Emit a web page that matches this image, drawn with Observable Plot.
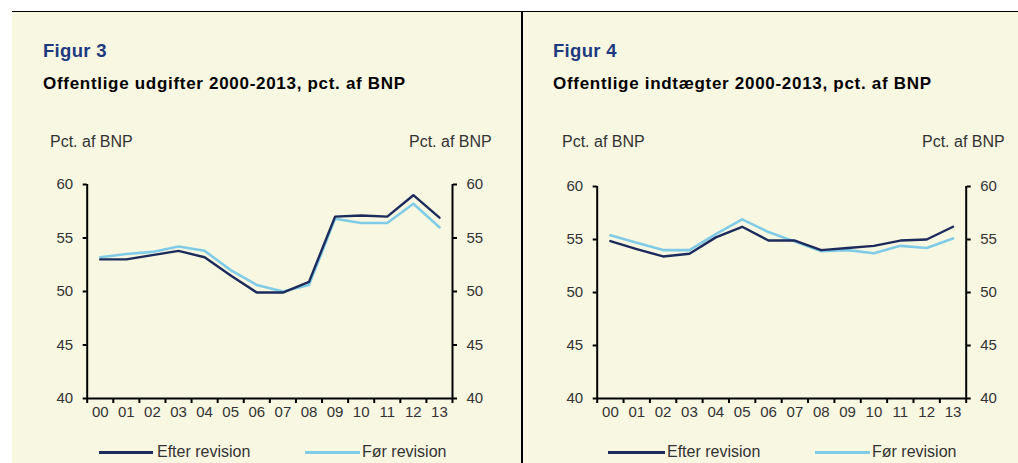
<!DOCTYPE html>
<html>
<head>
<meta charset="utf-8">
<script src="https://cdn.jsdelivr.net/npm/d3@7"></script>
<script src="https://cdn.jsdelivr.net/npm/@observablehq/plot@0.6"></script>
<style>
  html, body { margin: 0; padding: 0; background: #ffffff; }
  #page { position: relative; width: 1018px; height: 463px; overflow: hidden; font-family: "Liberation Sans", Arial, sans-serif; }
  #bg { position: absolute; left: 12px; top: 11px; width: 1006px; height: 452px; background: #f8f7e2; border-top: 1.5px solid #000; box-sizing: border-box; }
  #divider { position: absolute; left: 521px; top: 11px; width: 1.5px; height: 452px; background: #000; }
  .abs { position: absolute; white-space: nowrap; line-height: 1; }
  .fig { font-weight: bold; font-size: 18.5px; letter-spacing: 0.3px; color: #1d3a7e; }
  .sub { font-weight: bold; font-size: 17px; letter-spacing: 0.7px; color: #000; }
  .unit { font-size: 16px; color: #333; }
  .leg { font-size: 16px; color: #333; }
  .sw { position: absolute; height: 2.5px; }
  .plotbox { position: absolute; }
</style>
</head>
<body>
<div id="page">
  <div id="bg"></div>
  <div id="divider"></div>

  <div class="abs fig" style="left:43px; top:42px;">Figur 3</div>
  <div class="abs sub" style="left:43px; top:75px;">Offentlige udgifter 2000-2013, pct. af BNP</div>
  <div class="abs unit" style="left:50px; top:134px;">Pct. af BNP</div>
  <div class="abs unit" style="left:409px; top:134px;">Pct. af BNP</div>

  <div class="abs fig" style="left:553px; top:42px;">Figur 4</div>
  <div class="abs sub" style="left:553px; top:75px;">Offentlige indtægter 2000-2013, pct. af BNP</div>
  <div class="abs unit" style="left:562px; top:134px;">Pct. af BNP</div>
  <div style="position:absolute; left:900px; top:120px; width:104px; height:30px; overflow:hidden;">
    <div class="abs unit" style="left:22px; top:14px;">Pct. af BNP</div>
  </div>

  <div id="chart3" class="plotbox" style="left:20px; top:150px;"></div>
  <div id="chart4" class="plotbox" style="left:530px; top:150px;"></div>

  <div class="sw" style="left:99px; top:451px; width:54px; background:#1c2b5c;"></div>
  <div class="abs leg" style="left:157px; top:444px;">Efter revision</div>
  <div class="sw" style="left:305px; top:451px; width:55px; background:#80cbe6;"></div>
  <div class="abs leg" style="left:362px; top:444px;">Før revision</div>

  <div class="sw" style="left:608px; top:451px; width:57px; background:#1c2b5c;"></div>
  <div class="abs leg" style="left:667px; top:444px;">Efter revision</div>
  <div class="sw" style="left:815px; top:451px; width:55px; background:#80cbe6;"></div>
  <div class="abs leg" style="left:872px; top:444px;">Før revision</div>
</div>
<script>
// Categories (years 2000-2013)
const years = ["00","01","02","03","04","05","06","07","08","09","10","11","12","13"];
// Figur 3: Offentlige udgifter, pct. af BNP
const efter3 = [53.0, 53.0, 53.4, 53.8, 53.2, 51.5, 49.9, 49.9, 50.9, 57.0, 57.1, 57.0, 59.0, 56.9];
const foer3  = [53.2, 53.5, 53.7, 54.2, 53.8, 52.0, 50.6, 50.0, 50.6, 56.8, 56.4, 56.4, 58.2, 56.0];
// Figur 4: Offentlige indtægter, pct. af BNP
const efter4 = [54.85, 54.1, 53.4, 53.65, 55.2, 56.2, 54.9, 54.9, 54.0, 54.2, 54.4, 54.9, 55.0, 56.2];
const foer4  = [55.4, 54.7, 54.0, 54.0, 55.5, 56.9, 55.7, 54.8, 53.9, 54.0, 53.7, 54.4, 54.2, 55.1];
// Y-axis ticks
const yTicks = [40, 45, 50, 55, 60];

const DARK = "#1c2b5c";
const LIGHT = "#80cbe6";

function makeChart(efter, foer, o) {
  const rows = (arr) => years.map((y, i) => ({i, v: arr[i]}));
  const edges = d3.range(-0.5, years.length, 1);
  const centers = d3.range(0, years.length);
  return Plot.plot({
    width: o.width,
    height: o.height,
    marginLeft: o.ml,
    marginRight: o.mr,
    marginTop: o.mt,
    marginBottom: o.mb,
    style: {background: "transparent", fontFamily: "'Liberation Sans', Arial, sans-serif", color: "#333", overflow: "visible"},
    x: {type: "linear", domain: [-0.5, years.length - 0.5]},
    y: {domain: [40, 60]},
    marks: [
      Plot.axisY({anchor: "left", ticks: yTicks, tickSize: 4, tickPadding: 10, label: null, fontSize: 15, stroke: "#000", strokeWidth: 2}),
      Plot.axisY({anchor: "right", ticks: yTicks, tickSize: 4, tickPadding: 10, label: null, fontSize: 15, stroke: "#000", strokeWidth: 2}),
      Plot.axisX({ticks: edges, tickSize: 5, tickFormat: () => "", label: null, stroke: "#000", strokeWidth: 2}),
      Plot.axisX({ticks: centers, tickSize: 0, tickPadding: 8, tickFormat: (i) => years[i], label: null, fontSize: 15}),
      Plot.ruleX([-0.5, years.length - 0.5], {stroke: "#000", strokeWidth: 2}),
      Plot.ruleY([40], {stroke: "#000", strokeWidth: 2}),
      Plot.line(rows(foer), {x: "i", y: "v", stroke: LIGHT, strokeWidth: 2.6}),
      Plot.line(rows(efter), {x: "i", y: "v", stroke: DARK, strokeWidth: 2.4})
    ]
  });
}

document.getElementById("chart3").append(
  makeChart(efter3, foer3, {width: 500, height: 280, ml: 66.7, mr: 68, mt: 34, mb: 32})
);
document.getElementById("chart4").append(
  makeChart(efter4, foer4, {width: 480, height: 280, ml: 66.7, mr: 44.3, mt: 36, mb: 32})
);
</script>
</body>
</html>
